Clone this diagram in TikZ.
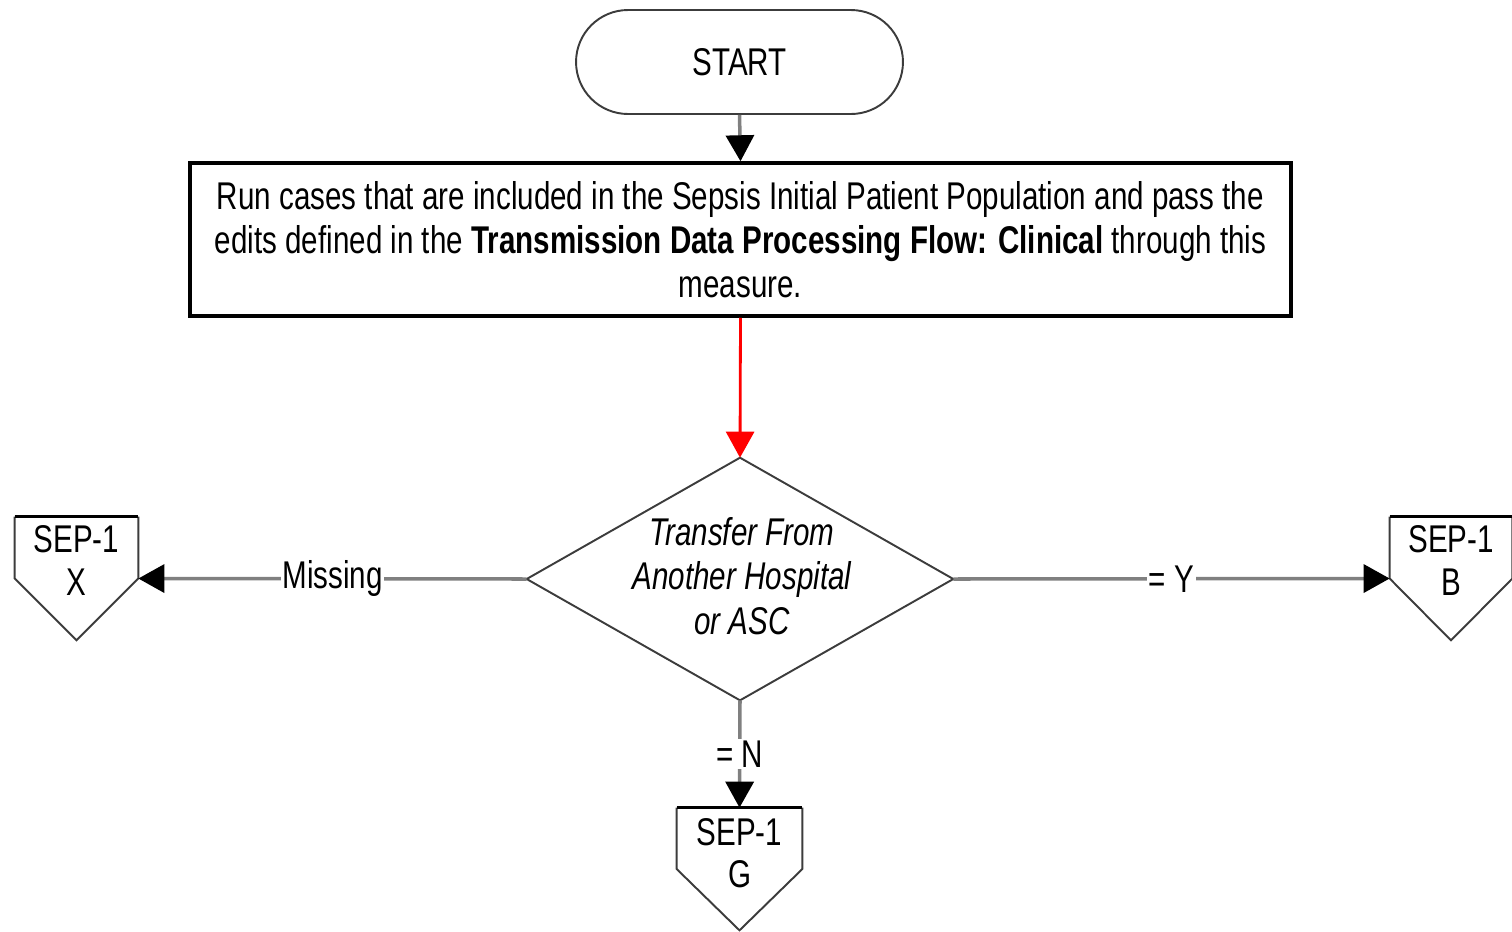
\documentclass[tikz,border=0pt]{standalone}
\usepackage{fontspec}
\setmainfont[FakeStretch=0.765]{Liberation Sans}
\usetikzlibrary{arrows.meta,calc}
\definecolor{linegray}{RGB}{128,128,128}
\definecolor{edgegray}{RGB}{60,60,60}
\begin{document}
\begin{tikzpicture}[x=0.02cm,y=-0.02cm,
  txt/.style={font=\fontsize{22}{25.2}\selectfont, align=center, inner sep=0pt},
  terminal/.style={txt, draw=edgegray, line width=1.1pt, rounded corners=1.04cm,
    minimum width=6.54cm, minimum height=2.08cm},
  procbox/.style={txt, draw=black, line width=2pt, minimum width=22.02cm, minimum height=3.06cm},
  frame/.style={draw=none, minimum width=#1, inner sep=0pt},
  outline/.style={draw=edgegray, line width=1.1pt},
  ptext/.style={font=\fontsize{22}{24}\selectfont, align=center, inner sep=0pt},
  conn/.style={draw=linegray, line width=2pt, -{Triangle[black,length=0.52cm,width=0.56cm]}},
  redconn/.style={draw=red, line width=1.6pt, -{Triangle[red,length=0.52cm,width=0.56cm]}},
  lab/.style={font=\fontsize{22}{24}\selectfont, fill=white, inner sep=1pt}
]
\useasboundingbox (0,0) rectangle (1512,931);

% START
\node[terminal] (start) at (739.5,62) {START};

% process box
\node[procbox] (run) at (740.5,239.5) {Run cases that are included in the Sepsis Initial Patient Population and pass the\\
edits defined in the \textbf{Transmission Data Processing Flow: Clinical} through this\\
measure.};

% decision
\node[frame=8.52cm, minimum height=4.84cm] (dec) at (740,579) {};
\draw[outline] (dec.north) -- (dec.east) -- (dec.south) -- (dec.west) -- cycle;
\node[txt, font=\fontsize{22}{25.2}\selectfont\itshape] (dectext) at ($(dec.center)+(2,-3)$) {Transfer From\\Another Hospital\\or ASC};

% off-page connectors
\node[frame=2.46cm, minimum height=2.46cm] (X) at (76.5,578.5) {};
\draw[outline] (X.north west) -- (X.west) -- (X.south) -- (X.east) -- (X.north east);
\draw[draw=black, line width=2pt] (X.north west) -- (X.north east);
\node[ptext] (Xt) at ($(X.center)+(0,-18)$) {SEP-1\\X};

\node[frame=2.44cm, minimum height=2.46cm] (B) at (1451,578.5) {};
\draw[outline] (B.north west) -- (B.west) -- (B.south) -- (B.east) -- (B.north east);
\draw[draw=black, line width=2pt] (B.north west) -- (B.north east);
\node[ptext] (Bt) at ($(B.center)+(0,-18)$) {SEP-1\\B};

\node[frame=2.5cm, minimum height=2.44cm] (G) at (739.5,869) {};
\draw[outline] (G.north west) -- (G.west) -- (G.south) -- (G.east) -- (G.north east);
\draw[draw=black, line width=2pt] (G.north west) -- (G.north east);
\node[ptext] (Gt) at ($(G.center)+(0,-16)$) {SEP-1\\G};

% connectors
\draw[conn] (start.south) -- (run.north);
\draw[redconn] (run.south) -- (dec.north);
\draw[conn] (dec.west) -- node[lab] {Missing} (X.east);
\draw[conn] (dec.east) -- node[lab] {= Y} (B.west);
\draw[conn] (dec.south) -- node[lab] {= N} (G.north);
\end{tikzpicture}
\end{document}
